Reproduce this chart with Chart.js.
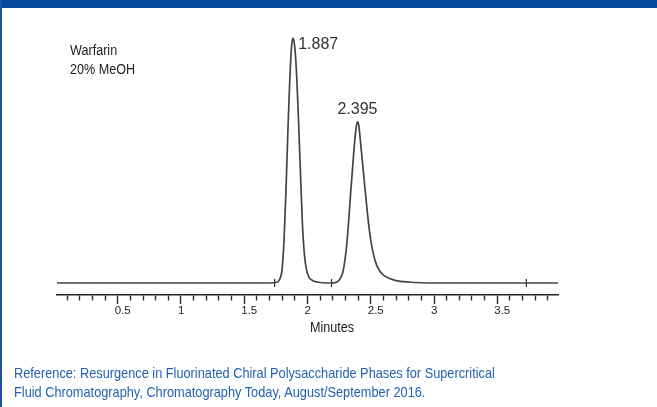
<!DOCTYPE html>
<html>
<head>
<meta charset="utf-8">
<script src="https://cdn.jsdelivr.net/npm/chart.js@4/dist/chart.umd.min.js"></script>
<style>
  html, body { margin: 0; padding: 0; background: #fff; }
  body { width: 657px; height: 407px; position: relative; overflow: hidden; font-family: "Liberation Sans", Arial, sans-serif; }
  #topBar { position: absolute; left: 0; top: 0; width: 657px; height: 8px; background: #064b9b; }
  #leftBar { position: absolute; left: 0; top: 0; width: 2px; height: 407px; background: #1a52a0; }
  #chart { position: absolute; left: 0; top: 0; }
  .note { position: absolute; color: #222; font-size: 14px; line-height: 19px; white-space: nowrap; transform: scaleX(0.9); transform-origin: left top; }
  #sample { left: 70px; top: 41px; }
  #xTitle { left: 310px; top: 318px; }
  #reference { position: absolute; left: 14px; top: 364px; color: #2262b0; font-size: 14.5px; line-height: 18.5px; white-space: nowrap; transform: scaleX(0.88); transform-origin: left top; }
</style>
</head>
<body>
<canvas id="chart" width="657" height="407"></canvas>
<div id="topBar"></div>
<div id="leftBar"></div>
<div class="note" id="sample">Warfarin<br>20% MeOH</div>
<div class="note" id="xTitle">Minutes</div>
<div id="reference">Reference: Resurgence in Fluorinated Chiral Polysaccharide Phases for Supercritical<br>Fluid Chromatography, Chromatography Today, August/September 2016.</div>
<script>
    // chromatogram (minutes, detector response)
    const times = [0.02, 1.70, 1.76, 1.78, 1.80, 1.815, 1.83, 1.845, 1.86, 1.875, 1.887, 1.90, 1.915, 1.93, 1.945, 1.96, 1.975, 1.99, 2.01, 2.04, 2.08, 2.12,
        2.20, 2.22, 2.245, 2.265, 2.28, 2.295, 2.31, 2.325, 2.34, 2.355, 2.37, 2.385, 2.395, 2.405, 2.42, 2.435, 2.45, 2.465, 2.48, 2.50, 2.52, 2.545, 2.57, 2.60,
        2.65, 2.70, 2.80, 2.90, 3.00, 3.98];
    const signal = [0, 0, 0.3, 1.5, 6, 18, 38, 62, 83, 97, 100, 96, 84, 65, 44, 24, 12, 6, 2.5, 1, 0.4, 0.1,
        0, 0.2, 0.8, 2.5, 4.5, 9, 15.5, 25, 36, 46, 56, 63.5, 65.8, 64.5, 57, 49, 41, 33, 25.5, 17.5, 12, 7.5, 5, 3.2,
        1.8, 1.0, 0.4, 0.1, 0, 0];
    const peakTimes = [1.887, 2.395];
    const peakHeights = [100, 65.8];
    const peakLabels = ['1.887', '2.395'];
    const markerTimes = [1.74, 2.19, 3.73];
    const majorTicks = [0.5, 1, 1.5, 2, 2.5, 3, 3.5];
    const minorTicks = [0.1, 0.2, 0.3, 0.4, 0.6, 0.7, 0.8, 0.9, 1.1, 1.2, 1.3, 1.4, 1.6, 1.7, 1.8, 1.9,
        2.1, 2.2, 2.3, 2.4, 2.6, 2.7, 2.8, 2.9, 3.1, 3.2, 3.3, 3.4, 3.6, 3.7, 3.8, 3.9];

    const allTicks = majorTicks.concat(minorTicks).sort(function (a, b) { return a - b; });

    const peakLabelPlugin = {
        id: 'peakLabels',
        afterDatasetsDraw(chart) {
            const ctx = chart.ctx;
            const x = chart.scales.x;
            const y = chart.scales.y;
            ctx.save();
            ctx.font = '16px "Liberation Sans", Arial, sans-serif';
            ctx.fillStyle = '#333';
            ctx.textBaseline = 'middle';
            // first label sits right of its apex, second one above it
            let px = x.getPixelForValue(peakTimes[0]);
            let py = y.getPixelForValue(peakHeights[0]);
            ctx.textAlign = 'left';
            ctx.fillText(peakLabels[0], px + 5, py + 7);
            px = x.getPixelForValue(peakTimes[1]);
            py = y.getPixelForValue(peakHeights[1]);
            ctx.textAlign = 'center';
            ctx.fillText(peakLabels[1], px, py - 12);
            ctx.restore();
        }
    };

    new Chart(document.getElementById('chart'), {
        type: 'line',
        data: {
            datasets: [{
                data: times.map(function (t, i) { return { x: t, y: signal[i] }; }),
                borderColor: '#444',
                borderWidth: 1.7,
                pointRadius: 0,
                fill: false,
                cubicInterpolationMode: 'monotone'
            }, {
                data: markerTimes.map(function (t) { return { x: t, y: 0 }; }),
                showLine: false,
                pointStyle: 'line',
                rotation: 90,
                pointRadius: 4,
                borderColor: '#333',
                borderWidth: 1.3
            }]
        },
        options: {
            responsive: false,
            animation: false,
            layout: { padding: { left: 57, right: 99, top: 30, bottom: 88 } },
            plugins: { legend: { display: false }, tooltip: { enabled: false } },
            scales: {
                x: {
                    type: 'linear',
                    min: 0.02,
                    max: 3.98,
                    afterBuildTicks: function (scale) {
                        scale.ticks = allTicks.map(function (v) { return { value: v }; });
                    },
                    afterFit: function (scale) { scale.height = 24; },
                    border: { display: true, color: '#222', width: 1.5 },
                    grid: {
                        drawOnChartArea: false,
                        tickLength: 9,
                        tickColor: '#2a2a2a',
                        tickWidth: 1.4,
                        tickBorderDash: function (ctx) {
                            return majorTicks.includes(ctx.tick.value) ? [] : [5, 20];
                        }
                    },
                    ticks: {
                        autoSkip: false,
                        maxRotation: 0,
                        align: 'start',
                        labelOffset: -3,
                        padding: 0,
                        color: '#222',
                        font: { family: '"Liberation Sans", Arial, sans-serif', size: 11.5 },
                        callback: function (v) { return majorTicks.includes(v) ? String(v) : ''; }
                    }
                },
                y: {
                    display: false,
                    min: -4.9,
                    max: 103.3
                }
            }
        },
        plugins: [peakLabelPlugin]
    });
</script>
</body>
</html>
